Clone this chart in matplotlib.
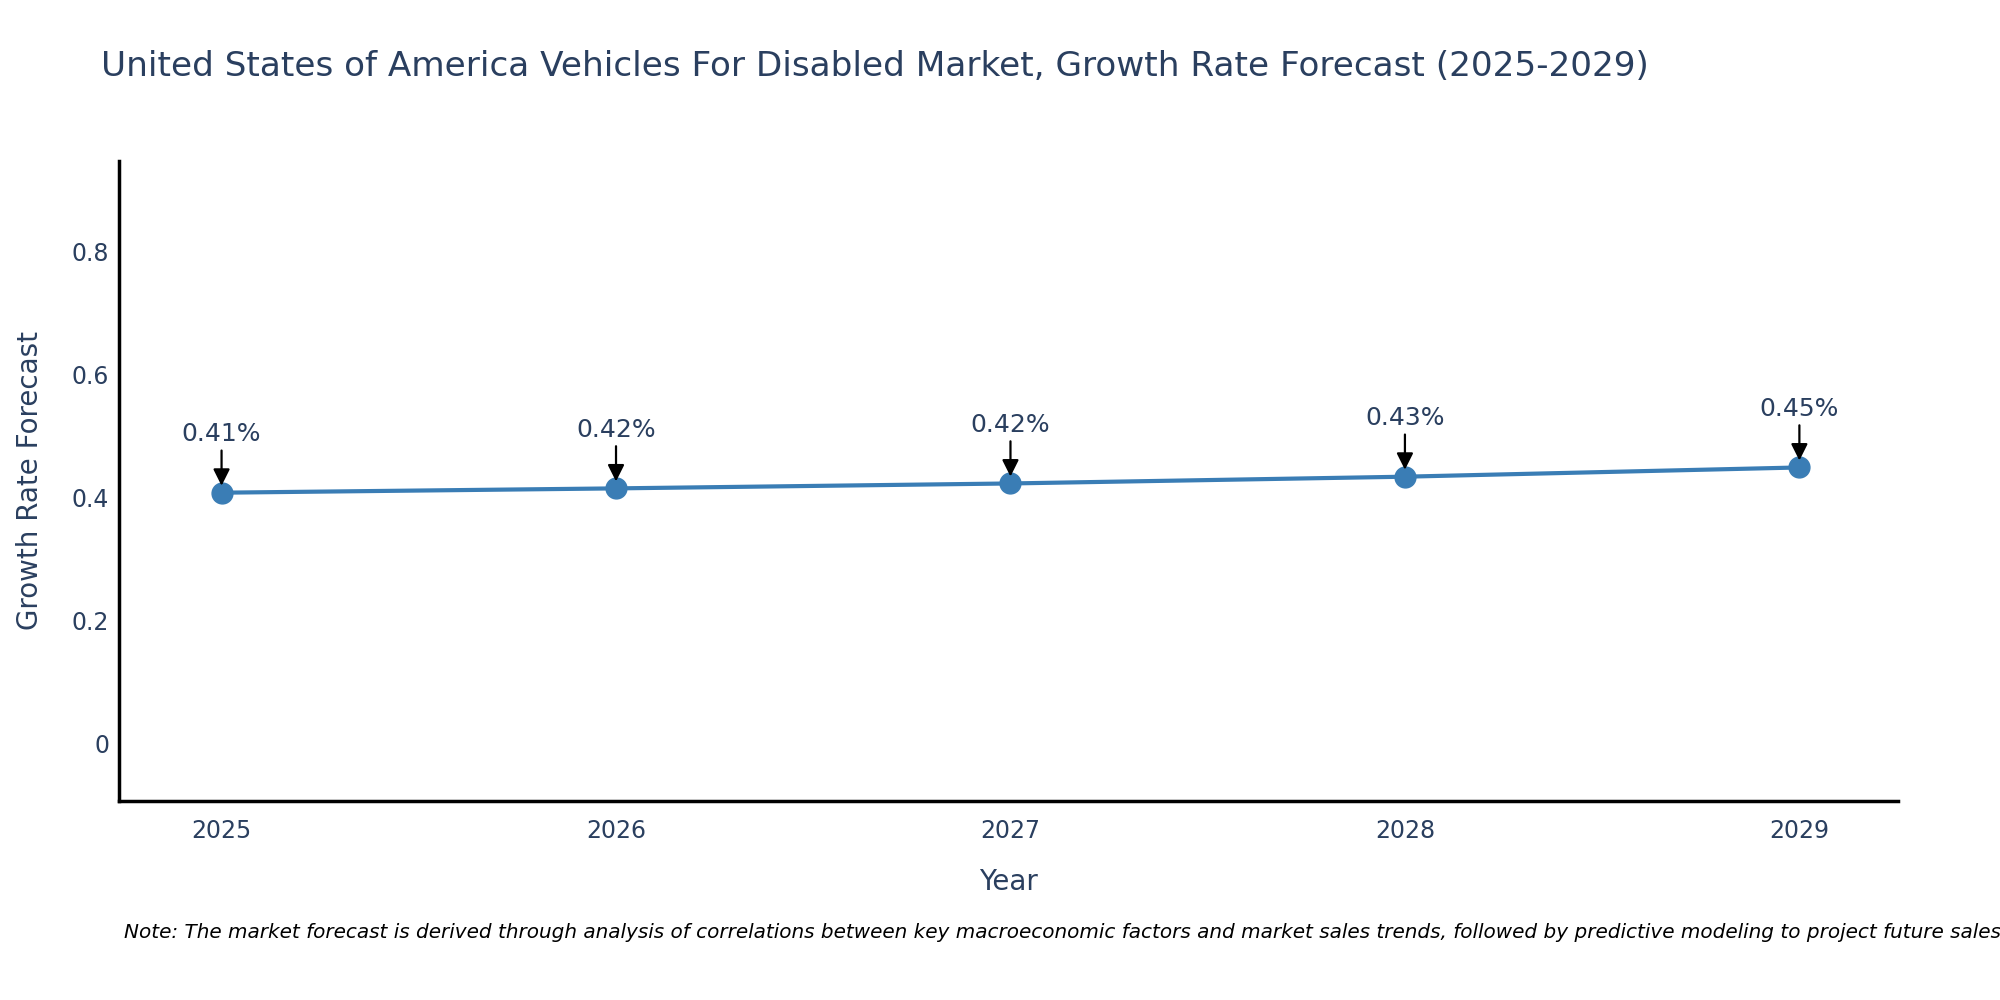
import matplotlib.pyplot as plt

years = [2025, 2026, 2027, 2028, 2029]
growth = [0.408, 0.415, 0.423, 0.434, 0.449]
labels = ["0.41%", "0.42%", "0.42%", "0.43%", "0.45%"]
yticks = [0, 0.2, 0.4, 0.6, 0.8]

txt = "#2a3f5f"
line_col = "#3a7db5"

plt.rcParams['font.family'] = ['DejaVu Sans']
fig = plt.figure(figsize=(20, 10), dpi=100)
ax = fig.add_axes([0.0595, 0.199, 0.8895, 0.640])

ax.plot(years, growth, color=line_col, lw=3, marker='o', ms=15, zorder=3)
for x, y, s in zip(years, growth, labels):
    ax.annotate(s, xy=(x, y), xytext=(0, 42), textcoords='offset points',
                ha='center', va='center', fontsize=18, color=txt,
                arrowprops=dict(arrowstyle='-|>', color='black', lw=1.6,
                                mutation_scale=25, shrinkA=1, shrinkB=5))

ax.set_xlim(2024.74, 2029.25)
ax.set_ylim(-0.093, 0.947)
ax.set_xticks(years)
ax.set_yticks(yticks)
ax.set_yticklabels(["0", "0.2", "0.4", "0.6", "0.8"])
ax.tick_params(axis='both', length=0, labelsize=17, labelcolor=txt)
ax.tick_params(axis='x', pad=13)
ax.tick_params(axis='y', pad=7)
for side in ['top', 'right']:
    ax.spines[side].set_visible(False)
for side in ['left', 'bottom']:
    ax.spines[side].set_linewidth(2.5)
    ax.spines[side].set_color('black')

ax.set_xlabel("Year", fontsize=20, color=txt, labelpad=18)
ax.set_ylabel("Growth Rate Forecast", fontsize=20, color=txt, labelpad=20)

fig.text(0.0505, 0.934, "United States of America Vehicles For Disabled Market, Growth Rate Forecast (2025-2029)",
         fontsize=24.7, color=txt, va='center', ha='left')
fig.text(0.062, 0.068, "Note: The market forecast is derived through analysis of correlations between key macroeconomic factors and market sales trends, followed by predictive modeling to project future sales.",
         fontsize=14.4, style='italic', color='black', va='center', ha='left')

fig.savefig("out.png", dpi=100)
